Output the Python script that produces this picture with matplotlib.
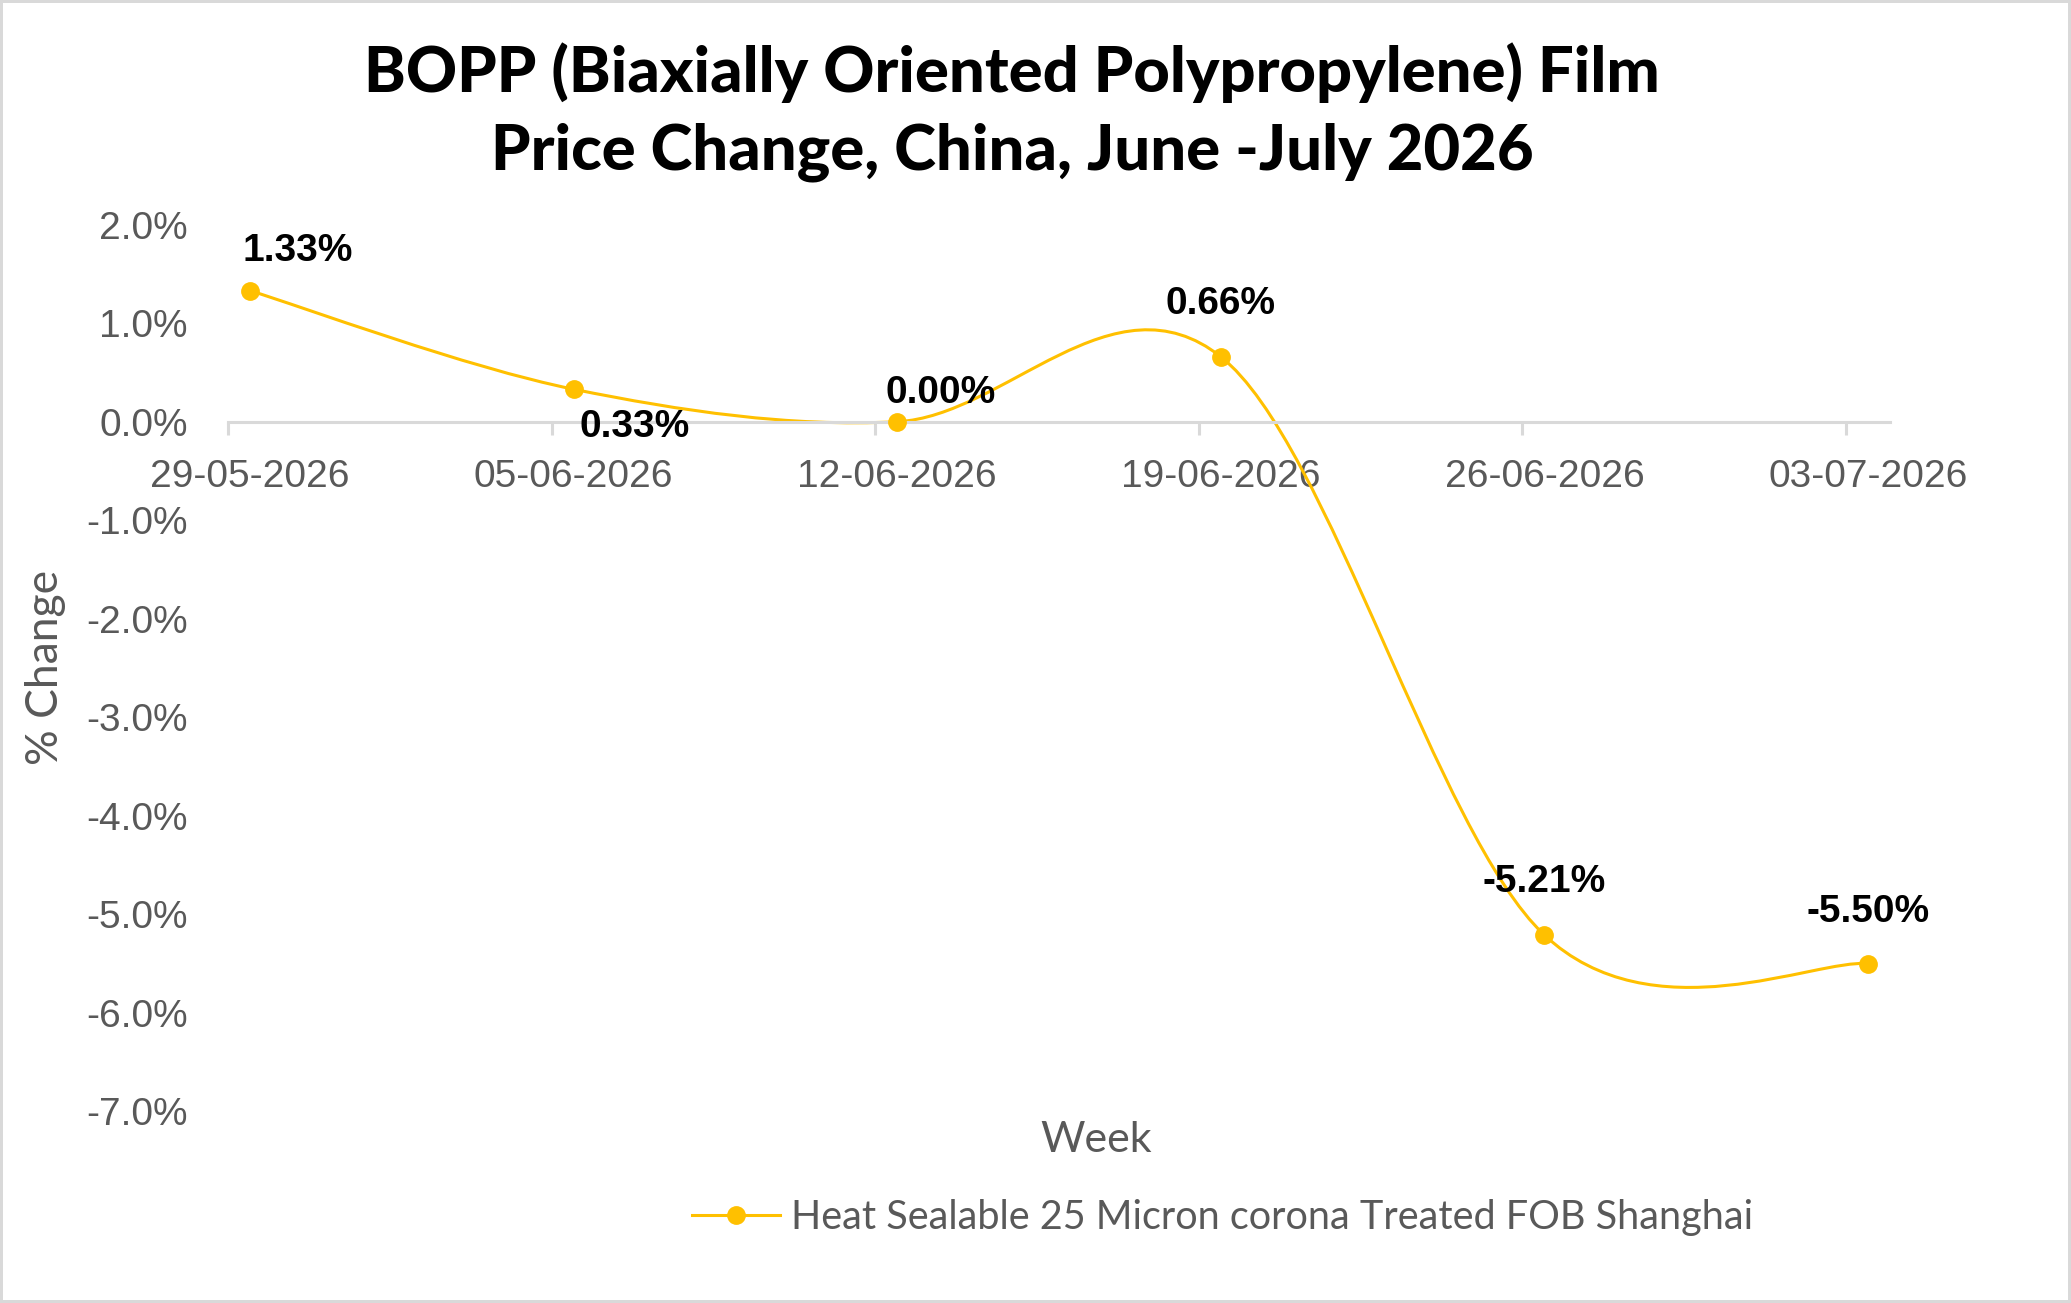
import matplotlib
matplotlib.use("Agg")
import matplotlib.pyplot as plt
from matplotlib.path import Path
from matplotlib.patches import PathPatch, Rectangle
from matplotlib.lines import Line2D
import numpy as np

# data
weeks = ["29-05-2026", "05-06-2026", "12-06-2026", "19-06-2026", "26-06-2026", "03-07-2026"]
change = [1.33, 0.33, 0.00, 0.66, -5.21, -5.50]
series_name = "Heat Sealable 25 Micron corona Treated FOB Shanghai"
title_lines = ["BOPP (Biaxially Oriented Polypropylene) Film", "Price Change, China, June -July 2026"]

# label offsets in pixels (x, y) relative to each point
label_offsets = [(48, 40), (61, -38), (43, 29), (0, 53), (0, 53), (0, 52)]

gold = "#FFC000"
grey_txt = "#595959"
axis_grey = "#D9D9D9"

W, H = 2071, 1303
fig = plt.figure(figsize=(W / 100, H / 100), dpi=100)
ax = fig.add_axes([228 / W, 1 - 1111.4 / H, (1890 - 228) / W, (1111.4 - 224.7) / H])

x = np.arange(len(change))
y = np.array(change)

# Excel style smoothed line (cubic bezier through the points)
px = np.concatenate([[x[0]], x, [x[-1]]])
py = np.concatenate([[y[0]], y, [y[-1]]])
verts = [(x[0], y[0])]
codes = [Path.MOVETO]
for i in range(1, len(px) - 2):
    c1 = (px[i] + (px[i + 1] - px[i - 1]) / 6, py[i] + (py[i + 1] - py[i - 1]) / 6)
    c2 = (px[i + 1] - (px[i + 2] - px[i]) / 6, py[i + 1] - (py[i + 2] - py[i]) / 6)
    verts += [c1, c2, (px[i + 1], py[i + 1])]
    codes += [Path.CURVE4] * 3
ax.add_patch(PathPatch(Path(verts, codes), facecolor="none", edgecolor=gold, lw=2.2, zorder=2))
ax.plot(x, y, linestyle="none", marker="o", ms=12.5, color=gold, zorder=3)

for i, v in enumerate(change):
    ax.annotate(f"{v:.2f}%", (x[i], v), xytext=label_offsets[i], textcoords="offset pixels",
                ha="center", va="center", fontsize=28, fontweight="bold",
                family="Liberation Sans", color="black")

ax.set_xlim(-0.068, 5.068)
ax.set_ylim(-7, 2)
ax.set_yticks(np.arange(-7, 2.1, 1))
ax.set_yticklabels([f"{t:.1f}%" for t in np.arange(-7, 2.1, 1)])

ax.set_xticks(x - 0.068)
ax.set_xticklabels([])
ax.set_xticks(x, minor=True)
ax.set_xticklabels(weeks, minor=True)

for s in ["left", "top", "right"]:
    ax.spines[s].set_visible(False)
ax.spines["bottom"].set_position(("data", 0))
ax.spines["bottom"].set_color(axis_grey)
ax.spines["bottom"].set_linewidth(2.2)

ax.tick_params(axis="x", which="major", length=9, width=2.2, color=axis_grey, direction="out")
ax.tick_params(axis="x", which="minor", length=0, pad=27, labelsize=28, labelcolor=grey_txt)
ax.tick_params(axis="y", length=0, pad=29, labelsize=28, labelcolor=grey_txt)
for lab in ax.get_xticklabels(minor=True) + ax.get_yticklabels():
    lab.set_family("Liberation Sans")

ax.set_xlabel("Week", fontsize=31, color=grey_txt, family="Lato")
ax.xaxis.set_label_coords((1096 - 228) / 1662, -(1140.5 - 1111.4) / 886.7)
ax.xaxis.label.set_va("center")
ax.set_ylabel("% Change", fontsize=32, color=grey_txt, family="Lato")
ax.yaxis.set_label_coords((46 - 228) / 1662, (1111.4 - 667) / 886.7)
ax.yaxis.label.set_va("center")

fig.text(1012 / W, 1 - 72.6 / H, title_lines[0], ha="center", va="center",
         fontsize=45.5, fontweight="black", family="Lato")
fig.text(1012 / W, 1 - 152 / H, title_lines[1], ha="center", va="center",
         fontsize=45.5, fontweight="black", family="Lato")

handle = Line2D([], [], color=gold, lw=2.2, marker="o", ms=12.5)
fig.legend([handle], [series_name], loc="center", bbox_to_anchor=(1223 / W, 1 - 1217 / H),
           frameon=False, handlelength=2.2, handletextpad=0.3,
           prop={"family": "Lato", "size": 28.5}, labelcolor=grey_txt)

fig.add_artist(Rectangle((0, 0), 1, 1, transform=fig.transFigure, fill=False,
                         edgecolor=axis_grey, linewidth=4.3))

fig.savefig("out.png", dpi=100, facecolor="white")
